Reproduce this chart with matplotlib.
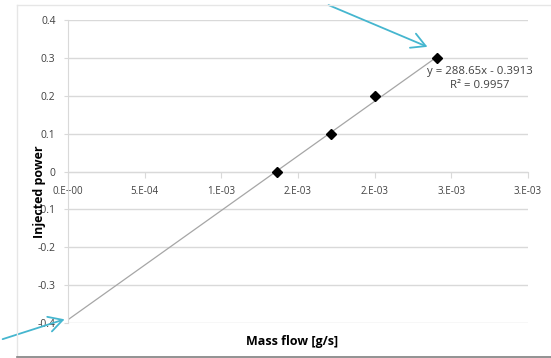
import numpy as np
import matplotlib
matplotlib.use("Agg")
import matplotlib.pyplot as plt
from matplotlib.lines import Line2D

# Data
mass_flow = [0.001363, 0.001716, 0.002003, 0.002409]   # g/s
injected_power = [0.0, 0.1, 0.2, 0.3]
slope = 288.65
intercept = -0.3913
r2 = 0.9957

x_ticks = [0, 0.0005, 0.001, 0.0015, 0.002, 0.0025, 0.003]
x_tick_labels = ["0.E+00", "5.E-04", "1.E-03", "2.E-03", "2.E-03", "3.E-03", "3.E-03"]
y_ticks = [-0.4, -0.3, -0.2, -0.1, 0, 0.1, 0.2, 0.3, 0.4]
y_tick_labels = ["-0.4", "-0.3", "-0.2", "-0.1", "0", "0.1", "0.2", "0.3", "0.4"]

plt.rcParams["font.family"] = ["Open Sans", "DejaVu Sans"]
text_col = "#404040"
grid_col = "#D9D9D9"
arrow_col = "#45B6CF"

fig = plt.figure(figsize=(5.51, 3.58), dpi=100)
ax = fig.add_axes([68/551, 1-323/358, 460/551, (323-20.3)/358])

# chart frame
fig.add_artist(Line2D([17/551, 1], [1-5/358, 1-5/358], color="#E6E6E6", lw=1))
fig.add_artist(Line2D([17/551, 17/551], [1-5/358, 1-356/358], color="#E6E6E6", lw=1))
fig.add_artist(Line2D([17/551, 1], [1-356.5/358, 1-356.5/358], color="#7F7F7F", lw=1.2))

ax.set_xlim(0, 0.003)
ax.set_ylim(-0.4, 0.4)
ax.set_yticks(y_ticks)
ax.set_yticklabels(y_tick_labels)
ax.set_xticks(x_ticks)
ax.set_xticklabels(x_tick_labels)
ax.grid(axis="y", color=grid_col, lw=1)
ax.set_axisbelow(True)

for s in ["top", "right"]:
    ax.spines[s].set_visible(False)
ax.spines["bottom"].set_position(("data", 0))
ax.spines["bottom"].set_color(grid_col)
ax.spines["left"].set_color(grid_col)
ax.tick_params(axis="x", direction="out", length=4, color=grid_col, pad=6,
               labelsize=7, labelcolor=text_col)
ax.tick_params(axis="y", direction="out", length=3, color=grid_col, pad=6,
               labelsize=7.5, labelcolor=text_col)

# trendline and points
xs = np.array([0, max(mass_flow)])
ax.plot(xs, slope * xs + intercept, color="#A6A6A6", lw=0.9, zorder=2)
ax.plot(mass_flow, injected_power, ls="none", marker="D", ms=5.5,
        color="black", zorder=3)

ax.text(0.002687, 0.266, f"y = {slope}x - {abs(intercept)}", ha="center",
        va="center", fontsize=8.2, color=text_col)
ax.text(0.002687, 0.227, f"R² = {r2}", ha="center", va="center",
        fontsize=8.2, color=text_col)

fig.text(40/551, 1-192/358, "Injected power", rotation=90, ha="center",
         va="center", fontsize=9, fontweight="bold", color="black")
fig.text(292.5/551, 1-341.5/358, "Mass flow [g/s]", ha="center", va="center",
         fontsize=9, fontweight="bold", color="black")

# callout arrows
arrow = dict(arrowstyle="->,head_length=1.0,head_width=0.55", color=arrow_col, lw=1.3)
ax.annotate("", xy=(0.002361, 0.327), xycoords="data",
            xytext=(326/551, 1-4/358), textcoords="figure fraction",
            arrowprops=arrow, annotation_clip=False)
ax.annotate("", xy=(-0.000005, -0.388), xycoords="data",
            xytext=(0, 1-340/358), textcoords="figure fraction",
            arrowprops=arrow, annotation_clip=False)

fig.savefig("out.png", dpi=100)
